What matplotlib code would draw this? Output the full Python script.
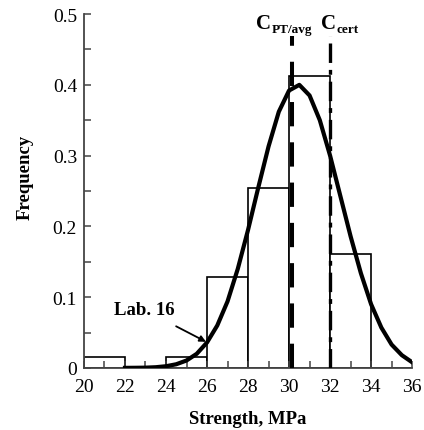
import matplotlib.pyplot as plt
import numpy as np
from matplotlib.ticker import MultipleLocator

plt.rcParams['font.family'] = ['Liberation Serif', 'DejaVu Serif']
plt.rcParams['lines.scale_dashes'] = False

# histogram bins (left edges, width 2 MPa) and frequencies
bin_left = [20, 22, 24, 26, 28, 30, 32, 34]
freq = [0.016, 0.0, 0.016, 0.129, 0.254, 0.413, 0.161, 0.0]

# fitted distribution curve
curve_x = [22, 22.5, 23, 23.5, 24, 24.5, 25, 25.5, 26, 26.5, 27, 27.5, 28, 28.5,
           29, 29.5, 30, 30.5, 31, 31.5, 32, 32.5, 33, 33.5, 34, 34.5, 35, 35.5, 36]
curve_y = [0.0001, 0.0002, 0.0004, 0.001, 0.0024, 0.0052, 0.0105, 0.02, 0.036,
           0.06, 0.094, 0.140, 0.195, 0.255, 0.313, 0.362, 0.392, 0.400, 0.385,
           0.350, 0.300, 0.243, 0.186, 0.134, 0.090, 0.057, 0.033, 0.018, 0.008]

c_pt_avg = 30.15
c_cert = 32.0

fig = plt.figure(figsize=(4.24, 4.31), dpi=100)
ax = fig.add_axes([0.198, 0.144, 0.774, 0.821])

ax.bar(bin_left, freq, width=2, align='edge', facecolor='white',
       edgecolor='black', linewidth=1.2, zorder=1)
ax.plot(curve_x, curve_y, color='black', lw=3.0, zorder=3,
        solid_joinstyle='round')

# vertical reference lines, drawn bottom-up
ax.plot([c_pt_avg, c_pt_avg], [0, 0.469], color='black', lw=2.9,
        dashes=(17.5, 11.5), zorder=4)
ax.plot([c_cert, c_cert], [0, 0.469], color='black', lw=2.4,
        dashes=(14, 5, 3.5, 5), zorder=4)

# labels: big "C" plus smaller subscript
for xpos, sub in [(29.12, 'PT/avg'), (32.3, 'cert')]:
    ax.text(xpos, 0.480, 'C', ha='right', va='baseline',
            fontsize=15, fontweight='bold')
    ax.annotate(sub, xy=(xpos, 0.480), xytext=(0.3, -2.5),
                textcoords='offset points', ha='left', va='baseline',
                fontsize=9.5, fontweight='bold')

ax.annotate('Lab. 16', xy=(25.95, 0.037), xytext=(22.95, 0.082),
            ha='center', va='center', fontsize=13.5, fontweight='bold',
            arrowprops=dict(arrowstyle='-|>', color='black', lw=1.3,
                            shrinkA=8, shrinkB=0, mutation_scale=9))

ax.set_xlim(20, 36)
ax.set_ylim(0, 0.5)
ax.xaxis.set_major_locator(MultipleLocator(2))
ax.xaxis.set_minor_locator(MultipleLocator(1))
ax.yaxis.set_minor_locator(MultipleLocator(0.05))
ax.set_yticks([0, 0.1, 0.2, 0.3, 0.4, 0.5])
ax.set_yticklabels(['0', '0.1', '0.2', '0.3', '0.4', '0.5'])

for s in ['top', 'right']:
    ax.spines[s].set_visible(False)
for s in ['left', 'bottom']:
    ax.spines[s].set_color('#444444')
    ax.spines[s].set_linewidth(1.3)
ax.tick_params(which='both', direction='in', color='#444444', width=1.1,
               length=5, labelsize=14)
ax.tick_params(axis='y', pad=5)
ax.tick_params(axis='x', pad=7)

ax.set_xlabel('Strength, MPa', fontsize=13.5, fontweight='bold', labelpad=11)
ax.set_ylabel('Frequency', fontsize=13.5, fontweight='bold')
ax.yaxis.set_label_coords(-0.152, 0.542)

fig.savefig('out.png', dpi=100)
